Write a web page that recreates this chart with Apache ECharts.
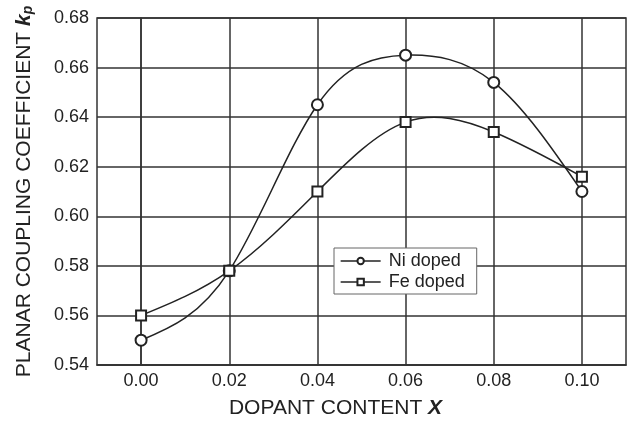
<!DOCTYPE html>
<html>
<head>
<meta charset="utf-8">
<script src="https://cdn.jsdelivr.net/npm/echarts@6/dist/echarts.min.js"></script>
<style>
    html, body { margin: 0; padding: 0; background: #fff; }
    #chart { width: 627px; height: 424px; }
</style>
</head>
<body>
<div id="chart"></div>
<script>
// dopant content x
var dopant = [0.00, 0.02, 0.04, 0.06, 0.08, 0.10];
// planar coupling coefficient kp
var niDoped = [0.550, 0.578, 0.645, 0.665, 0.654, 0.610];
var feDoped = [0.560, 0.578, 0.610, 0.638, 0.634, 0.616];
var xTicks = [0.00, 0.02, 0.04, 0.06, 0.08, 0.10];

var ink = '#222222';
var font = '"Liberation Sans", Arial, Helvetica, sans-serif';

function pairs(xs, ys) {
    return xs.map(function (x, i) { return [x, ys[i]]; });
}

// slopes of a natural cubic spline through the points (used only to draw the curve)
function splineSlopes(xs, ys) {
    var n = xs.length, h = [], i;
    for (i = 0; i < n - 1; i++) h.push(xs[i + 1] - xs[i]);
    var a = [], b = [], c = [], d = [];
    for (i = 0; i < n; i++) {
        if (i === 0 || i === n - 1) { a.push(0); b.push(1); c.push(0); d.push(0); continue; }
        a.push(h[i - 1]);
        b.push(2 * (h[i - 1] + h[i]));
        c.push(h[i]);
        d.push(6 * ((ys[i + 1] - ys[i]) / h[i] - (ys[i] - ys[i - 1]) / h[i - 1]));
    }
    for (i = 1; i < n; i++) {
        var w = a[i] / b[i - 1];
        b[i] -= w * c[i - 1];
        d[i] -= w * d[i - 1];
    }
    var M = new Array(n);
    M[n - 1] = d[n - 1] / b[n - 1];
    for (i = n - 2; i >= 0; i--) M[i] = (d[i] - c[i] * M[i + 1]) / b[i];
    var m = [];
    for (i = 0; i < n - 1; i++) m.push((ys[i + 1] - ys[i]) / h[i] - h[i] * (2 * M[i] + M[i + 1]) / 6);
    var k = n - 2;
    m.push((ys[k + 1] - ys[k]) / h[k] + h[k] * (M[k] + 2 * M[k + 1]) / 6);
    return m;
}

function curveData(xs, ys) {
    var m = splineSlopes(xs, ys);
    return xs.map(function (x, i) { return [x, ys[i], m[i]]; });
}

function renderCurve(params, api) {
    var i = params.dataIndexInside;
    if (i >= params.dataInsideLength - 1) return null;
    var x0 = api.value(0, i), y0 = api.value(1, i), m0 = api.value(2, i);
    var x1 = api.value(0, i + 1), y1 = api.value(1, i + 1), m1 = api.value(2, i + 1);
    var h = x1 - x0;
    var p0 = api.coord([x0, y0]);
    var p1 = api.coord([x1, y1]);
    var c0 = api.coord([x0 + h / 3, y0 + m0 * h / 3]);
    var c1 = api.coord([x1 - h / 3, y1 - m1 * h / 3]);
    return {
        type: 'bezierCurve',
        shape: {
            x1: p0[0], y1: p0[1], x2: p1[0], y2: p1[1],
            cpx1: c0[0], cpy1: c0[1], cpx2: c1[0], cpy2: c1[1]
        },
        style: { stroke: ink, lineWidth: 1.5, fill: 'none' }
    };
}

var myChart = echarts.init(document.getElementById('chart'));
var option = {
    backgroundColor: '#fff',
    animation: false,
    textStyle: { fontFamily: font, color: ink },
    grid: {
        left: 97,
        right: 1,
        top: 18,
        bottom: 54,
        show: true,
        borderColor: '#333',
        borderWidth: 1.5
    },
    legend: {
        orient: 'vertical',
        left: 334,
        top: 248,
        padding: [4, 12, 3, 6],
        itemWidth: 40,
        itemHeight: 8,
        itemGap: 3,
        backgroundColor: '#fff',
        borderColor: '#666',
        borderWidth: 1,
        lineStyle: { color: ink, width: 1.3, opacity: 1 },
        textStyle: { fontFamily: font, fontSize: 18, color: ink, padding: [0, 0, 0, 3] },
        data: ['Ni doped', 'Fe doped']
    },
    xAxis: {
        type: 'value',
        min: -0.01,
        max: 0.11,
        name: 'DOPANT CONTENT {x|X}',
        nameLocation: 'middle',
        nameGap: 33,
        nameTextStyle: {
            fontFamily: font,
            fontSize: 21,
            color: ink,
            padding: [0, 52, 0, 0],
            rich: {
                x: { fontFamily: font, fontSize: 21, fontWeight: 'bold', fontStyle: 'italic', color: ink }
            }
        },
        axisLine: { show: true, lineStyle: { color: '#333', width: 1.5 } },
        axisTick: { show: false, customValues: xTicks },
        axisLabel: {
            customValues: xTicks,
            margin: 7,
            fontSize: 18,
            color: ink,
            formatter: function (v) { return v.toFixed(2); }
        },
        splitLine: { show: true, lineStyle: { color: '#333', width: 1.5 } }
    },
    yAxis: {
        type: 'value',
        min: 0.54,
        max: 0.68,
        interval: 0.02,
        name: 'PLANAR COUPLING COEFFICIENT {k|k}{p|p}',
        nameLocation: 'middle',
        nameGap: 62,
        nameTextStyle: {
            fontFamily: font,
            fontSize: 21,
            color: ink,
            rich: {
                k: { fontFamily: font, fontSize: 21, fontWeight: 'bold', fontStyle: 'italic', color: ink },
                p: { fontFamily: font, fontSize: 14, fontWeight: 'bold', fontStyle: 'italic', color: ink, verticalAlign: 'bottom', padding: [8, 0, 0, 0] }
            }
        },
        axisLine: { show: true, lineStyle: { color: '#333', width: 1.5 } },
        axisTick: { show: false },
        axisLabel: {
            margin: 8,
            fontSize: 18,
            color: ink,
            formatter: function (v) { return v.toFixed(2); }
        },
        splitLine: { show: true, lineStyle: { color: '#333', width: 1.5 } }
    },
    series: [
        {
            name: 'Ni curve',
            type: 'custom',
            z: 1,
            renderItem: renderCurve,
            data: curveData(dopant, niDoped)
        },
        {
            name: 'Fe curve',
            type: 'custom',
            z: 1,
            renderItem: renderCurve,
            data: curveData(dopant, feDoped)
        },
        {
            name: 'Ni doped',
            type: 'line',
            z: 3,
            symbol: 'emptyCircle',
            symbolSize: 11,
            color: ink,
            lineStyle: { color: ink, width: 1.5, opacity: 0 },
            itemStyle: { color: ink, borderColor: '#444', borderWidth: 1 },
            data: pairs(dopant, niDoped)
        },
        {
            name: 'Fe doped',
            type: 'line',
            z: 3,
            symbol: 'emptyRect',
            symbolSize: 10,
            color: ink,
            lineStyle: { color: ink, width: 1.5, opacity: 0 },
            itemStyle: { color: ink, borderColor: '#444', borderWidth: 1 },
            data: pairs(dopant, feDoped)
        }
    ]
};
myChart.setOption(option, true);
</script>
</body>
</html>
